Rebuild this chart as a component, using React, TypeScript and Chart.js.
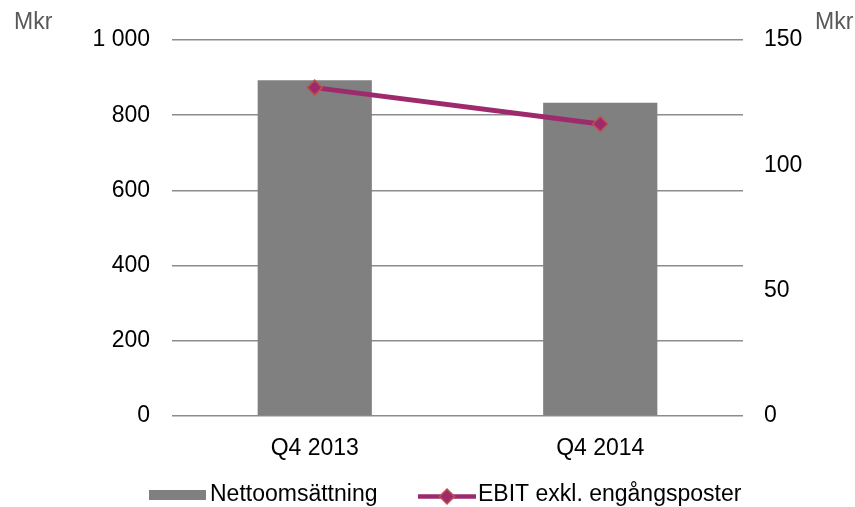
import React, { useEffect, useRef } from "react";
import { Chart, registerables } from "chart.js";

Chart.register(...registerables);

const categories = ["Q4 2013", "Q4 2014"];
const nettoomsattning = [893, 833];
const ebit = [131, 116.5];
const leftTicks = [0, 200, 400, 600, 800, 1000];
const rightTicks = [0, 50, 100, 150];
const seriesNames = ["Nettoomsättning", "EBIT exkl. engångsposter"];
const unitLabel = "Mkr";

const FONT = "'Liberation Sans', Arial, sans-serif";
const FS = 23;
const BAR_COLOR = "#808080";
const LINE_COLOR = "#9E2A6E";
const MARKER_BORDER = "#C0504D";

function fmtThousands(v: number): string {
  return String(v).replace(/\B(?=(\d{3})+(?!\d))/g, " ");
}

const overlayPlugin = {
  id: "overlay",
  afterDraw(chart: any) {
    const ctx = chart.ctx;
    ctx.save();
    ctx.font = `${FS}px ${FONT}`;
    ctx.textBaseline = "alphabetic";
    // unit labels
    ctx.fillStyle = "#595959";
    ctx.textAlign = "left";
    ctx.fillText(unitLabel, 14, 29);
    ctx.fillText(unitLabel, 815, 29);
    // legend
    ctx.fillStyle = BAR_COLOR;
    ctx.fillRect(149, 490, 57, 10);
    ctx.fillStyle = "#000000";
    ctx.fillText(seriesNames[0], 210, 501);
    ctx.strokeStyle = LINE_COLOR;
    ctx.lineWidth = 4.5;
    ctx.beginPath();
    ctx.moveTo(418, 496.5);
    ctx.lineTo(476, 496.5);
    ctx.stroke();
    ctx.beginPath();
    ctx.moveTo(447, 489);
    ctx.lineTo(454.5, 496.5);
    ctx.lineTo(447, 504);
    ctx.lineTo(439.5, 496.5);
    ctx.closePath();
    ctx.fillStyle = LINE_COLOR;
    ctx.fill();
    ctx.strokeStyle = MARKER_BORDER;
    ctx.lineWidth = 1.5;
    ctx.stroke();
    ctx.fillStyle = "#000000";
    ctx.fillText(seriesNames[1], 478, 501);
    ctx.restore();
  },
};

export default function App() {
  const ref = useRef<HTMLCanvasElement | null>(null);
  useEffect(() => {
    if (!ref.current) return;
    const chart = new Chart(ref.current, {
      type: "bar",
      data: {
        labels: categories,
        datasets: [
          {
            type: "line",
            label: seriesNames[1],
            data: ebit,
            yAxisID: "y1",
            borderColor: LINE_COLOR,
            backgroundColor: LINE_COLOR,
            borderWidth: 5,
            pointStyle: "rectRot",
            pointRadius: 7.5,
            pointBackgroundColor: LINE_COLOR,
            pointBorderColor: MARKER_BORDER,
            pointBorderWidth: 1.5,
            tension: 0,
            order: 0,
          } as any,
          {
            type: "bar",
            label: seriesNames[0],
            data: nettoomsattning,
            yAxisID: "y",
            backgroundColor: BAR_COLOR,
            borderWidth: 0,
            barPercentage: 0.4,
            categoryPercentage: 1,
            order: 1,
          },
        ],
      },
      options: {
        responsive: false,
        animation: false,
        layout: { padding: { top: 40, left: 0, right: 0, bottom: 0 } },
        plugins: {
          legend: { display: false },
          tooltip: { enabled: false },
        },
        scales: {
          x: {
            grid: { display: false },
            border: { display: false },
            ticks: {
              color: "#000000",
              font: { family: FONT, size: FS },
              padding: 11,
            },
            afterFit(scale: any) {
              scale.height = 507 - 416;
            },
          },
          y: {
            position: "left",
            min: 0,
            max: 1000,
            afterBuildTicks(scale: any) {
              scale.ticks = leftTicks.map((v) => ({ value: v }));
            },
            grid: { color: "#8c8c8c", lineWidth: 1.5, drawTicks: false },
            border: { display: false },
            ticks: {
              color: "#000000",
              font: { family: FONT, size: FS },
              padding: 22,
              callback: (v: any) => fmtThousands(Number(v)),
            },
            afterFit(scale: any) {
              scale.width = 172;
            },
          },
          y1: {
            position: "right",
            min: 0,
            max: 150,
            afterBuildTicks(scale: any) {
              scale.ticks = rightTicks.map((v) => ({ value: v }));
            },
            grid: { display: false, drawTicks: false },
            border: { display: false },
            ticks: {
              color: "#000000",
              font: { family: FONT, size: FS },
              padding: 21,
            },
            afterFit(scale: any) {
              scale.width = 855 - 743;
            },
          },
        },
      },
      plugins: [overlayPlugin],
    });
    return () => chart.destroy();
  }, []);
  return (
    <div style={{ position: "fixed", left: 0, top: 0, width: 855, height: 507, background: "#ffffff" }}>
      <canvas ref={ref} width={855} height={507} style={{ display: "block" }} />
    </div>
  );
}
